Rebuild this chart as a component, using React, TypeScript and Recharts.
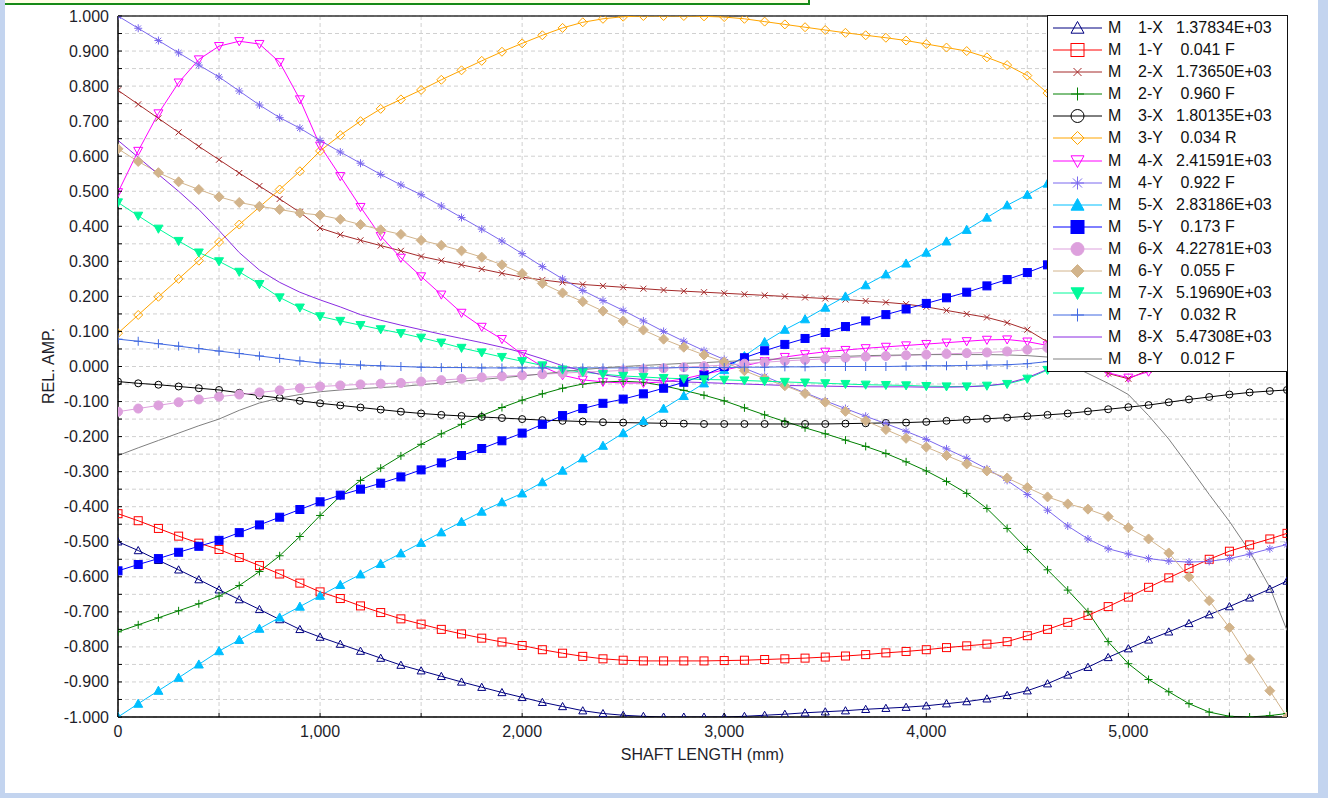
import React from 'react'
import { LineChart, Line, XAxis, YAxis, CartesianGrid, Legend, ReferenceLine, Label } from 'recharts'

// shaft stations (mm)
const shaftX = [0, 100, 200, 300, 400, 500, 600, 700, 800, 900, 1000, 1100, 1200, 1300, 1400, 1500, 1600, 1700, 1800, 1900, 2000, 2100, 2200, 2300, 2400, 2500, 2600, 2700, 2800, 2900, 3000, 3100, 3200, 3300, 3400, 3500, 3600, 3700, 3800, 3900, 4000, 4100, 4200, 4300, 4400, 4500, 4600, 4700, 4800, 4900, 5000, 5100, 5200, 5300, 5400, 5500, 5600, 5700, 5785]

// relative amplitudes
const m1x = [-0.500, -0.525, -0.553, -0.580, -0.608, -0.637, -0.665, -0.693, -0.722, -0.750, -0.772, -0.792, -0.812, -0.832, -0.852, -0.868, -0.884, -0.900, -0.915, -0.930, -0.944, -0.958, -0.970, -0.982, -0.990, -0.995, -0.998, -1.000, -1.000, -1.000, -1.000, -0.998, -0.995, -0.992, -0.988, -0.985, -0.982, -0.978, -0.975, -0.972, -0.968, -0.962, -0.956, -0.948, -0.938, -0.925, -0.905, -0.880, -0.858, -0.830, -0.805, -0.780, -0.757, -0.733, -0.708, -0.685, -0.660, -0.635, -0.612]
const m1y = [-0.420, -0.440, -0.462, -0.484, -0.504, -0.522, -0.545, -0.568, -0.592, -0.618, -0.643, -0.662, -0.683, -0.702, -0.720, -0.735, -0.750, -0.763, -0.775, -0.786, -0.796, -0.808, -0.818, -0.827, -0.834, -0.838, -0.840, -0.840, -0.840, -0.840, -0.839, -0.838, -0.836, -0.834, -0.832, -0.829, -0.826, -0.822, -0.817, -0.813, -0.808, -0.802, -0.797, -0.792, -0.785, -0.768, -0.750, -0.730, -0.710, -0.685, -0.658, -0.630, -0.603, -0.576, -0.550, -0.527, -0.509, -0.492, -0.476]
const m2x = [0.788, 0.748, 0.708, 0.668, 0.628, 0.590, 0.552, 0.515, 0.478, 0.440, 0.395, 0.376, 0.360, 0.345, 0.330, 0.314, 0.302, 0.290, 0.278, 0.266, 0.255, 0.247, 0.240, 0.234, 0.230, 0.226, 0.222, 0.218, 0.215, 0.212, 0.209, 0.206, 0.203, 0.200, 0.197, 0.194, 0.191, 0.187, 0.183, 0.178, 0.170, 0.160, 0.150, 0.140, 0.125, 0.105, 0.070, 0.035, 0.005, -0.020, -0.035, -0.010, 0.050, 0.130, 0.230, 0.340, 0.460, 0.580, 0.690]
const m2y = [-0.757, -0.737, -0.717, -0.697, -0.677, -0.655, -0.625, -0.585, -0.540, -0.485, -0.425, -0.370, -0.325, -0.290, -0.255, -0.222, -0.192, -0.165, -0.140, -0.117, -0.096, -0.078, -0.062, -0.050, -0.044, -0.042, -0.045, -0.055, -0.068, -0.082, -0.098, -0.118, -0.138, -0.157, -0.175, -0.192, -0.210, -0.228, -0.248, -0.272, -0.298, -0.328, -0.362, -0.405, -0.462, -0.522, -0.580, -0.638, -0.700, -0.785, -0.848, -0.893, -0.928, -0.962, -0.986, -0.998, -1.000, -0.996, -0.990]
const m3x = [-0.043, -0.048, -0.052, -0.057, -0.062, -0.067, -0.075, -0.083, -0.090, -0.098, -0.105, -0.111, -0.117, -0.123, -0.129, -0.134, -0.138, -0.141, -0.144, -0.147, -0.150, -0.153, -0.155, -0.157, -0.159, -0.160, -0.161, -0.162, -0.163, -0.164, -0.164, -0.164, -0.164, -0.164, -0.164, -0.164, -0.163, -0.162, -0.161, -0.160, -0.158, -0.155, -0.152, -0.149, -0.146, -0.142, -0.138, -0.134, -0.128, -0.122, -0.116, -0.110, -0.102, -0.094, -0.087, -0.080, -0.074, -0.070, -0.067]
const m3y = [0.095, 0.147, 0.199, 0.250, 0.302, 0.355, 0.405, 0.455, 0.505, 0.557, 0.615, 0.660, 0.700, 0.735, 0.762, 0.789, 0.818, 0.845, 0.872, 0.898, 0.922, 0.945, 0.966, 0.982, 0.992, 0.998, 1.000, 1.000, 1.000, 0.999, 0.997, 0.992, 0.984, 0.976, 0.968, 0.960, 0.952, 0.945, 0.938, 0.930, 0.920, 0.910, 0.900, 0.882, 0.860, 0.830, 0.780, 0.720, 0.650, 0.575, 0.500, 0.425, 0.355, 0.290, 0.232, 0.185, 0.148, 0.122, 0.107]
const m4x = [0.497, 0.615, 0.722, 0.810, 0.876, 0.914, 0.928, 0.920, 0.868, 0.762, 0.630, 0.543, 0.455, 0.372, 0.310, 0.257, 0.205, 0.153, 0.113, 0.078, 0.035, 0.000, -0.025, -0.038, -0.044, -0.047, -0.047, -0.044, -0.035, -0.022, -0.010, 0.002, 0.015, 0.027, 0.035, 0.042, 0.047, 0.052, 0.056, 0.060, 0.064, 0.068, 0.072, 0.076, 0.077, 0.071, 0.060, 0.040, 0.012, -0.018, -0.032, -0.015, 0.040, 0.110, 0.185, 0.260, 0.335, 0.405, 0.465]
const m4y = [1.000, 0.965, 0.930, 0.895, 0.860, 0.826, 0.786, 0.746, 0.710, 0.680, 0.645, 0.612, 0.580, 0.548, 0.518, 0.490, 0.458, 0.425, 0.392, 0.358, 0.322, 0.285, 0.250, 0.217, 0.188, 0.160, 0.130, 0.100, 0.072, 0.045, 0.020, -0.005, -0.028, -0.052, -0.075, -0.098, -0.120, -0.142, -0.163, -0.185, -0.208, -0.235, -0.262, -0.292, -0.325, -0.365, -0.410, -0.455, -0.492, -0.520, -0.535, -0.548, -0.555, -0.558, -0.556, -0.548, -0.535, -0.520, -0.508]
const m5x = [-1.000, -0.962, -0.925, -0.888, -0.850, -0.812, -0.780, -0.748, -0.716, -0.685, -0.654, -0.623, -0.593, -0.563, -0.533, -0.503, -0.473, -0.443, -0.414, -0.387, -0.362, -0.330, -0.297, -0.262, -0.226, -0.190, -0.155, -0.120, -0.084, -0.048, -0.010, 0.030, 0.070, 0.105, 0.135, 0.168, 0.200, 0.232, 0.263, 0.294, 0.325, 0.357, 0.390, 0.425, 0.460, 0.490, 0.522, 0.555, 0.588, 0.620, 0.652, 0.685, 0.718, 0.750, 0.782, 0.815, 0.848, 0.880, 0.908]
const m5y = [-0.583, -0.565, -0.548, -0.530, -0.513, -0.496, -0.474, -0.452, -0.430, -0.408, -0.386, -0.367, -0.350, -0.333, -0.315, -0.295, -0.275, -0.254, -0.234, -0.212, -0.190, -0.165, -0.140, -0.120, -0.105, -0.093, -0.078, -0.062, -0.045, -0.025, 0.000, 0.025, 0.045, 0.063, 0.080, 0.097, 0.114, 0.130, 0.148, 0.164, 0.180, 0.196, 0.212, 0.230, 0.248, 0.268, 0.290, 0.313, 0.337, 0.362, 0.388, 0.415, 0.443, 0.468, 0.494, 0.521, 0.548, 0.575, 0.600]
const m6x = [-0.129, -0.120, -0.111, -0.102, -0.094, -0.086, -0.080, -0.074, -0.068, -0.062, -0.057, -0.054, -0.051, -0.049, -0.047, -0.043, -0.039, -0.035, -0.031, -0.028, -0.025, -0.022, -0.019, -0.016, -0.014, -0.011, -0.008, -0.005, -0.002, 0.001, 0.004, 0.008, 0.012, 0.016, 0.019, 0.022, 0.025, 0.028, 0.030, 0.032, 0.034, 0.036, 0.038, 0.040, 0.043, 0.048, 0.053, 0.058, 0.064, 0.070, 0.077, 0.084, 0.091, 0.098, 0.105, 0.112, 0.118, 0.123, 0.127]
const m6y = [0.621, 0.585, 0.553, 0.527, 0.505, 0.484, 0.468, 0.457, 0.448, 0.438, 0.432, 0.420, 0.405, 0.390, 0.377, 0.360, 0.346, 0.330, 0.312, 0.290, 0.265, 0.237, 0.210, 0.185, 0.158, 0.130, 0.104, 0.078, 0.055, 0.033, 0.013, -0.012, -0.035, -0.055, -0.077, -0.102, -0.128, -0.155, -0.180, -0.205, -0.230, -0.254, -0.278, -0.298, -0.318, -0.345, -0.372, -0.392, -0.407, -0.428, -0.460, -0.492, -0.532, -0.600, -0.668, -0.745, -0.835, -0.925, -1.000]
const m7x = [0.468, 0.430, 0.393, 0.358, 0.325, 0.300, 0.270, 0.235, 0.197, 0.168, 0.143, 0.130, 0.118, 0.106, 0.095, 0.082, 0.068, 0.053, 0.040, 0.027, 0.015, 0.003, -0.009, -0.016, -0.022, -0.027, -0.030, -0.033, -0.035, -0.037, -0.038, -0.040, -0.042, -0.044, -0.046, -0.048, -0.050, -0.052, -0.053, -0.054, -0.056, -0.057, -0.057, -0.055, -0.050, -0.035, -0.010, 0.030, 0.090, 0.160, 0.240, 0.330, 0.420, 0.520, 0.620, 0.730, 0.830, 0.920, 1.000]
const m7y = [0.078, 0.072, 0.065, 0.058, 0.051, 0.044, 0.037, 0.030, 0.023, 0.016, 0.010, 0.007, 0.004, 0.002, 0.000, -0.002, -0.003, -0.003, -0.004, -0.004, -0.004, -0.004, -0.004, -0.004, -0.004, -0.004, -0.004, -0.004, -0.003, -0.003, -0.003, -0.002, -0.002, -0.001, -0.001, 0.000, 0.000, 0.000, 0.000, 0.001, 0.002, 0.002, 0.003, 0.004, 0.005, 0.008, 0.014, 0.020, 0.026, 0.032, 0.038, 0.043, 0.048, 0.052, 0.056, 0.060, 0.064, 0.068, 0.072]
const m8x = [0.645, 0.597, 0.548, 0.500, 0.448, 0.388, 0.325, 0.275, 0.240, 0.212, 0.190, 0.170, 0.148, 0.132, 0.118, 0.105, 0.092, 0.080, 0.068, 0.055, 0.040, 0.022, 0.002, -0.012, -0.024, -0.032, -0.037, -0.041, -0.044, -0.046, -0.048, -0.050, -0.052, -0.054, -0.055, -0.056, -0.057, -0.058, -0.058, -0.058, -0.059, -0.059, -0.058, -0.055, -0.048, -0.032, -0.008, 0.030, 0.085, 0.150, 0.225, 0.305, 0.395, 0.490, 0.590, 0.695, 0.800, 0.905, 1.000]
const m8y = [-0.254, -0.232, -0.211, -0.190, -0.169, -0.150, -0.125, -0.104, -0.090, -0.080, -0.072, -0.067, -0.063, -0.060, -0.057, -0.052, -0.047, -0.042, -0.037, -0.032, -0.027, -0.021, -0.015, -0.009, -0.004, 0.000, 0.003, 0.006, 0.009, 0.011, 0.014, 0.017, 0.020, 0.022, 0.025, 0.027, 0.029, 0.031, 0.032, 0.033, 0.034, 0.034, 0.034, 0.034, 0.033, 0.031, 0.027, 0.008, -0.020, -0.048, -0.080, -0.140, -0.207, -0.285, -0.365, -0.442, -0.527, -0.630, -0.753]

const modeNames = ['1-X', '1-Y', '2-X', '2-Y', '3-X', '3-Y', '4-X', '4-Y', '5-X', '5-Y', '6-X', '6-Y', '7-X', '7-Y', '8-X', '8-Y']
const modeValues = ['1.37834E+03', ' 0.041 F', '1.73650E+03', ' 0.960 F', '1.80135E+03', ' 0.034 R', '2.41591E+03', ' 0.922 F', '2.83186E+03', ' 0.173 F', '4.22781E+03', ' 0.055 F', '5.19690E+03', ' 0.032 R', '5.47308E+03', ' 0.012 F']

const xTicks = [0, 500, 1000, 1500, 2000, 2500, 3000, 3500, 4000, 4500, 5000, 5500]
const yTicks = Array.from({ length: 41 }, (_, i) => ((i - 20) * 5) / 100)

type MarkerKind = 'triUp' | 'square' | 'cross' | 'plus' | 'circle' | 'diamond' | 'triDown' | 'star' |
  'triUpFill' | 'squareFill' | 'circleFill' | 'diamondFill' | 'triDownFill' | 'none'

const series: { key: string; values: number[]; color: string; marker: MarkerKind; size: number }[] = [
  { key: 'm1x', values: m1x, color: '#000080', marker: 'triUp', size: 4 },
  { key: 'm1y', values: m1y, color: '#ff0000', marker: 'square', size: 4 },
  { key: 'm2x', values: m2x, color: '#a52a2a', marker: 'cross', size: 3 },
  { key: 'm2y', values: m2y, color: '#008000', marker: 'plus', size: 4 },
  { key: 'm3x', values: m3x, color: '#000000', marker: 'circle', size: 3.5 },
  { key: 'm3y', values: m3y, color: '#ffa500', marker: 'diamond', size: 4.5 },
  { key: 'm4x', values: m4x, color: '#ff00ff', marker: 'triDown', size: 4.5 },
  { key: 'm4y', values: m4y, color: '#7b68ee', marker: 'star', size: 4 },
  { key: 'm5x', values: m5x, color: '#00bfff', marker: 'triUpFill', size: 4.5 },
  { key: 'm5y', values: m5y, color: '#0000ff', marker: 'squareFill', size: 4 },
  { key: 'm6x', values: m6x, color: '#dda0dd', marker: 'circleFill', size: 4.5 },
  { key: 'm6y', values: m6y, color: '#d2b48c', marker: 'diamondFill', size: 5 },
  { key: 'm7x', values: m7x, color: '#00fa9a', marker: 'triDownFill', size: 4.5 },
  { key: 'm7y', values: m7y, color: '#4169e1', marker: 'plus', size: 4.5 },
  { key: 'm8x', values: m8x, color: '#8a2be2', marker: 'none', size: 0 },
  { key: 'm8y', values: m8y, color: '#808080', marker: 'none', size: 0 },
]

const rows = shaftX.map((x, i) => {
  const row: any = { x }
  series.forEach(s => { row[s.key] = s.values[i] })
  return row
})

const FONT = '"Liberation Sans", Arial, sans-serif'
const TEXT = '#1e1e2a'

function Marker({ kind, x, y, c, s }: { kind: MarkerKind; x: number; y: number; c: string; s: number }) {
  const filled = kind.endsWith('Fill')
  const fill = filled ? c : 'none'
  switch (kind) {
    case 'triUp':
    case 'triUpFill':
      return <polygon points={`${x},${y - s} ${x - s},${y + s * 0.8} ${x + s},${y + s * 0.8}`} fill={fill} stroke={c} />
    case 'triDown':
    case 'triDownFill':
      return <polygon points={`${x},${y + s} ${x - s},${y - s * 0.8} ${x + s},${y - s * 0.8}`} fill={fill} stroke={c} />
    case 'square':
    case 'squareFill':
      return <rect x={x - s} y={y - s} width={s * 2} height={s * 2} fill={fill} stroke={c} />
    case 'circle':
    case 'circleFill':
      return <circle cx={x} cy={y} r={s} fill={fill} stroke={c} />
    case 'diamond':
    case 'diamondFill':
      return <polygon points={`${x},${y - s} ${x + s},${y} ${x},${y + s} ${x - s},${y}`} fill={fill} stroke={c} />
    case 'cross':
      return <path d={`M${x - s},${y - s}L${x + s},${y + s}M${x - s},${y + s}L${x + s},${y - s}`} stroke={c} fill="none" />
    case 'plus':
      return <path d={`M${x - s},${y}L${x + s},${y}M${x},${y - s}L${x},${y + s}`} stroke={c} fill="none" />
    case 'star': {
      const d = s * 0.7
      return <path d={`M${x - s},${y}L${x + s},${y}M${x},${y - s}L${x},${y + s}M${x - d},${y - d}L${x + d},${y + d}M${x - d},${y + d}L${x + d},${y - d}`} stroke={c} fill="none" />
    }
    default:
      return null
  }
}

const makeDot = (kind: MarkerKind, color: string, size: number) => (props: any) => {
  const { cx, cy, index } = props
  if (cx == null || cy == null) return <g key={index} />
  return <g key={index}><Marker kind={kind} x={cx} y={cy} c={color} s={size} /></g>
}

const YTick = (props: any) => {
  const { x, y, payload } = props
  const v = payload.value as number
  const major = Math.abs(Math.round(v * 10) - v * 10) < 1e-6
  return (
    <g>
      <line x1={x} x2={x + 4} y1={y} y2={y} stroke="#000" />
      {major && (
        <text x={x - 9} y={y} dy={5.5} textAnchor="end" fontSize={16} fill={TEXT} fontFamily={FONT}>
          {v.toFixed(3)}
        </text>
      )}
    </g>
  )
}

const XTick = (props: any) => {
  const { x, y, payload } = props
  const v = payload.value as number
  return (
    <g>
      <line x1={x} x2={x} y1={y - 4} y2={y} stroke="#000" />
      {v % 1000 === 0 && (
        <text x={x} y={y + 20} textAnchor="middle" fontSize={16} fill={TEXT} fontFamily={FONT}>
          {v.toLocaleString('en-US')}
        </text>
      )}
    </g>
  )
}

const LegendBox = () => (
  <div style={{ width: 241, height: 357, boxSizing: 'border-box', border: '1px solid #111', background: '#fff', paddingTop: 1, fontFamily: FONT, fontSize: 16, color: '#111' }}>
    {series.map((s, i) => (
      <div key={s.key} style={{ position: 'relative', height: 22.1, lineHeight: '22px' }}>
        <svg width={58} height={22} style={{ position: 'absolute', left: 0, top: 0 }}>
          <line x1={5} x2={54} y1={11} y2={11} stroke={s.color} />
          <Marker kind={s.marker} x={29.5} y={11} c={s.color} s={s.marker === 'cross' ? 4 : 6.5} />
        </svg>
        <span style={{ position: 'absolute', left: 60, top: 0 }}>M</span>
        <span style={{ position: 'absolute', left: 90, top: 0 }}>{modeNames[i]}</span>
        <span style={{ position: 'absolute', left: 128, top: 0, whiteSpace: 'pre' }}>{modeValues[i]}</span>
      </div>
    ))}
  </div>
)

export default function App() {
  return (
    <div style={{ position: 'absolute', left: 0, top: 0, width: 1328, height: 798, background: '#fff', overflow: 'hidden', fontFamily: FONT }}>
      <LineChart width={1328} height={798} data={rows} margin={{ top: 16, right: 41, bottom: 41, left: 0 }} style={{ fontFamily: FONT }}>
        <CartesianGrid stroke="#d0d0d0" strokeDasharray="4 3" />
        <XAxis
          type="number"
          dataKey="x"
          domain={[0, 5785]}
          ticks={xTicks}
          interval={0}
          tick={XTick}
          tickLine={false}
          tickSize={0}
          tickMargin={0}
          height={40}
          allowDataOverflow
          axisLine={{ stroke: '#000', strokeWidth: 1.5 }}
        >
          <Label value="SHAFT LENGTH (mm)" position="insideBottom" offset={-3} fontSize={16} fill={TEXT} />
        </XAxis>
        <YAxis
          type="number"
          domain={[-1, 1]}
          ticks={yTicks}
          interval={0}
          tick={YTick}
          tickLine={false}
          tickSize={0}
          tickMargin={0}
          width={118}
          allowDataOverflow
          axisLine={{ stroke: '#000', strokeWidth: 1.5 }}
        >
          <Label
            content={() => (
              <text transform="translate(54,366) rotate(-90)" textAnchor="middle" fontSize={16} fill={TEXT} fontFamily={FONT}>
                REL. AMP.
              </text>
            )}
          />
        </YAxis>
        <ReferenceLine y={1} stroke="#333" strokeWidth={1.5} />
        <ReferenceLine x={5785} stroke="#000" strokeWidth={2} />
        {series.map(s => (
          <Line
            key={s.key}
            type="linear"
            dataKey={s.key}
            stroke={s.color}
            strokeWidth={1}
            dot={s.marker === 'none' ? false : makeDot(s.marker, s.color, s.size)}
            activeDot={false}
            isAnimationActive={false}
          />
        ))}
        <Legend
          layout="horizontal"
          align="center"
          verticalAlign="middle"
          content={() => <LegendBox />}
          wrapperStyle={{ position: 'absolute', left: 1047, top: 15, width: 241, height: 357, margin: 0, padding: 0 }}
        />
      </LineChart>
      <div style={{ position: 'absolute', left: 0, top: -10, width: 806, height: 11, background: '#ffffe6', border: '2px solid #178a17' }} />
      <div style={{ position: 'absolute', left: 0, top: 0, width: 5, height: 798, background: '#c3d4ef' }} />
      <div style={{ position: 'absolute', left: 1318, top: 0, width: 10, height: 798, background: '#c3d4ef' }} />
      <div style={{ position: 'absolute', left: 0, top: 793, width: 1328, height: 5, background: '#c3d4ef' }} />
    </div>
  )
}
